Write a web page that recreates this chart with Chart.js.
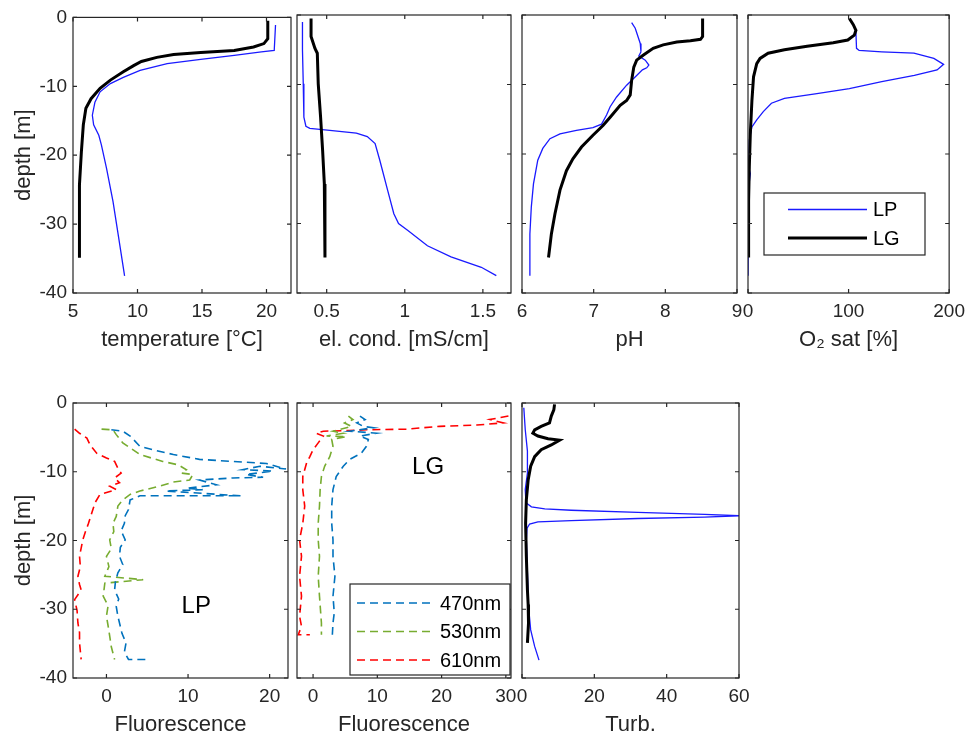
<!DOCTYPE html>
<html>
<head>
<meta charset="utf-8">
<script src="https://cdn.jsdelivr.net/npm/chart.js@4"></script>
<style>
body { margin: 0; background: #fff; }
#wrap { position: relative; width: 972px; height: 738px; }
#wrap canvas { position: absolute; left: 0; top: 0; }
</style>
</head>
<body>
<div id="wrap"></div>
<script>
// ---- DATA (depth in m, negative downwards) ----
var depthTicks = [-40, -30, -20, -10, 0];
var tempTicks = [5, 10, 15, 20];
var condTicks = [0.5, 1, 1.5];
var phTicks = [6, 7, 8, 9];
var o2Ticks = [0, 100, 200];
var fluoLPTicks = [0, 10, 20];
var fluoLGTicks = [0, 10, 20, 30];
var turbTicks = [0, 20, 40, 60];

var tempLGDepth = [-0.5, -3.1, -3.8, -4.3, -4.8, -5.1, -5.4, -5.8, -6.4, -7.0, -7.9, -9.1, -10.3, -11.8, -13.2, -15.6, -19.5, -24.3, -34.9];
var tempLG = [20.1, 20.1, 19.8, 19.0, 17.5, 14.9, 12.8, 11.5, 10.3, 9.7, 8.9, 7.9, 7.1, 6.4, 6.0, 5.8, 5.65, 5.5, 5.5];
var tempLPDepth = [-1.1, -4.8, -5.0, -5.5, -6.1, -6.7, -7.7, -8.7, -9.6, -10.8, -12.3, -14.2, -15.6, -17.1, -18.5, -21.9, -26.7, -31.5, -37.5];
var tempLP = [20.7, 20.6, 19.6, 17.5, 14.9, 12.3, 10.2, 8.9, 7.9, 7.1, 6.7, 6.5, 6.6, 7.0, 7.2, 7.6, 8.1, 8.5, 9.0];

var condLGDepth = [-0.5, -3.1, -4.8, -5.5, -9.9, -14.7, -19.5, -24.3, -29.1, -34.9];
var condLG = [0.40, 0.40, 0.425, 0.44, 0.446, 0.461, 0.474, 0.485, 0.489, 0.489];
var condLPDepth = [-1.0, -5.0, -9.9, -14.7, -16.0, -16.3, -16.6, -17.0, -17.5, -18.5, -20.9, -25.2, -28.6, -30.0, -31.0, -33.2, -34.8, -36.3, -37.5];
var condLP = [0.345, 0.345, 0.35, 0.354, 0.367, 0.392, 0.52, 0.69, 0.76, 0.81, 0.84, 0.89, 0.93, 0.96, 1.02, 1.145, 1.296, 1.49, 1.586];

var phLGDepth = [-0.5, -3.1, -3.5, -3.7, -3.9, -4.3, -4.8, -5.8, -6.5, -7.5, -9.4, -11.5, -12.3, -13.0, -14.7, -15.9, -17.3, -19.0, -20.7, -22.4, -25.2, -28.6, -31.5, -34.9];
var phLG = [8.52, 8.52, 8.49, 8.35, 8.16, 7.97, 7.83, 7.69, 7.60, 7.56, 7.53, 7.51, 7.46, 7.37, 7.23, 7.13, 6.99, 6.83, 6.71, 6.62, 6.53, 6.46, 6.41, 6.37];
var phLPDepth = [-1.1, -1.9, -4.1, -5.3, -5.9, -6.5, -7.2, -7.6, -7.9, -8.7, -10.1, -11.8, -13.2, -14.4, -15.7, -16.2, -16.6, -17.1, -17.8, -19.2, -20.9, -24.3, -27.6, -31.5, -37.5];
var phLP = [7.53, 7.58, 7.65, 7.66, 7.63, 7.72, 7.77, 7.74, 7.68, 7.60, 7.46, 7.32, 7.23, 7.18, 7.11, 6.99, 6.76, 6.53, 6.39, 6.29, 6.22, 6.16, 6.13, 6.11, 6.11];

var o2LGDepth = [-0.5, -1.4, -2.2, -2.9, -3.6, -4.0, -4.5, -5.0, -5.5, -6.25, -7.0, -8.9, -12.3, -17.1, -21.9, -26.7, -34.9];
var o2LG = [100.8, 104.7, 107.3, 105.7, 99.2, 84.7, 58.8, 36.2, 20.0, 12.0, 8.7, 5.5, 3.9, 2.3, 1.3, 0.6, 0.6];
var o2LPDepth = [-2.5, -4.8, -5.1, -5.3, -5.5, -6.25, -7.1, -7.9, -8.7, -9.6, -10.6, -11.3, -12.0, -12.7, -13.9, -15.1, -16.1, -18.0, -21.9, -22.8, -24.8, -31.5, -37.5];
var o2LP = [107.3, 107.9, 110.5, 133, 165, 184.8, 194.5, 188, 165.4, 133, 100.8, 68.5, 36.2, 23.3, 15.2, 8.7, 3.9, 1.3, 0.6, 2.3, 0.6, 0.2, 0];

var fl470LPDepth = [-3.9, -4.1, -4.8, -5.3, -6.3, -6.8, -7.5, -8.2, -8.5, -8.8, -9.6, -9.2, -9.7, -9.9, -10.4, -10.8, -10.9, -11.2, -11.9, -12.4, -12.6, -12.8, -13.5, -13.5, -14.1, -15.5, -16.4, -17.5, -18.6, -19.9, -21.0, -22.3, -23.5, -24.7, -26.0, -27.2, -28.5, -29.6, -31.0, -32.0, -33.5, -34.9, -36.2, -37.3, -37.3];
var fl470LP = [0.6, 2.0, 2.9, 3.3, 4.1, 5.7, 8.2, 11.4, 15.5, 19.6, 22.0, 18.8, 16.7, 20.4, 17.1, 19.2, 15.5, 11.4, 13.5, 9.8, 11.8, 7.3, 16.5, 4.1, 2.9, 2.7, 2.3, 2.2, 1.8, 2.3, 1.7, 1.6, 2.0, 1.4, 1.1, 1.0, 1.5, 1.2, 1.4, 1.6, 1.9, 2.4, 2.2, 2.7, 4.9];
var fl530LPDepth = [-3.8, -3.9, -4.6, -5.8, -7.5, -8.5, -9.0, -9.7, -10.2, -10.4, -11.2, -11.5, -12.1, -12.8, -13.3, -14.1, -15.0, -16.5, -17.5, -18.7, -19.9, -21.2, -22.3, -23.8, -25.2, -25.7, -26.2, -28.1, -29.5, -31.0, -32.4, -33.9, -35.5, -37.3];
var fl530LP = [-0.6, 0.8, 1.2, 2.0, 4.1, 6.9, 8.8, 9.8, 9.2, 10.6, 10.2, 8.2, 6.5, 4.1, 2.9, 2.0, 1.4, 1.2, 0.8, 0.9, 0.4, 0.6, 0.0, 0.3, -0.2, 4.5, -0.2, -0.4, 0.2, 0.0, 0.2, 0.4, 0.6, 1.0];
var fl610LPDepth = [-3.8, -4.4, -5.1, -6.1, -7.3, -8.0, -8.5, -9.5, -10.2, -10.9, -11.6, -12.1, -12.6, -13.3, -14.5, -16.0, -17.5, -18.8, -19.9, -21.1, -22.3, -23.8, -25.2, -26.4, -27.2, -28.6, -30.2, -32.0, -33.4, -34.9, -37.3];
var fl610LP = [-3.9, -3.3, -2.4, -2.0, -1.2, 0.0, 1.0, 1.4, 1.8, 1.0, 1.6, 0.4, 1.2, -0.8, -1.4, -1.8, -2.2, -2.6, -2.9, -3.1, -3.3, -3.2, -3.5, -3.3, -3.1, -3.9, -3.6, -3.5, -3.3, -3.3, -3.1];

var fl470LGDepth = [-1.9, -2.4, -2.9, -3.4, -3.6, -4.1, -4.4, -4.8, -5.3, -6.3, -7.3, -8.2, -9.2, -10.7, -12.6, -15.0, -17.5, -19.9, -22.3, -25.2, -28.1, -30.5, -32.0, -33.7];
var fl470LG = [7.3, 8.1, 6.8, 7.8, 9.4, 5.7, 9.9, 7.3, 8.6, 8.3, 7.5, 5.7, 4.7, 3.6, 3.1, 2.9, 2.9, 3.1, 3.1, 3.4, 3.1, 3.3, 3.1, 3.0];
var fl530LGDepth = [-1.9, -2.4, -2.9, -3.4, -4.1, -4.4, -4.8, -4.9, -5.3, -6.3, -7.8, -9.2, -10.7, -12.6, -15.0, -17.5, -19.9, -22.3, -25.2, -28.1, -32.0, -33.7];
var fl530LG = [5.5, 6.2, 4.9, 6.0, 3.1, 4.7, 2.1, 5.2, 2.9, 3.1, 2.6, 1.8, 1.3, 1.1, 1.0, 0.8, 0.8, 1.0, 0.8, 1.0, 1.3, 1.3];
var fl610LGDepth = [-1.9, -2.4, -2.9, -3.2, -3.4, -3.8, -3.9, -4.0, -4.1, -4.4, -4.8, -5.8, -6.8, -7.8, -8.7, -10.7, -12.6, -15.0, -17.5, -19.9, -22.3, -25.2, -28.1, -31.0, -32.5, -33.7, -33.7];
var fl610LG = [30.4, 27.5, 29.6, 25.5, 19.7, 14.5, 8.3, 5.7, 1.6, 0.5, 1.6, 0.8, 0.0, -0.5, -1.0, -1.6, -1.6, -1.3, -1.6, -2.1, -1.8, -2.1, -1.8, -2.1, -1.8, -2.3, -0.5];

var turbLGDepth = [-0.2, -1.0, -1.9, -2.9, -3.4, -3.9, -4.4, -4.8, -5.2, -5.4, -6.1, -6.8, -7.8, -9.2, -11.2, -14.1, -17.5, -22.3, -27.2, -29.3, -32.0, -34.9];
var turbLG = [9.0, 8.8, 8.1, 7.6, 5.3, 3.5, 3.0, 4.4, 7.2, 10.4, 8.1, 5.3, 3.5, 2.4, 1.7, 1.2, 1.0, 1.2, 1.5, 1.7, 1.8, 1.5];
var turbLPDepth = [-0.7, -3.9, -7.0, -10.2, -12.6, -14.5, -15.1, -15.4, -15.6, -15.9, -16.2, -16.4, -16.6, -16.8, -17.1, -17.3, -17.6, -18.2, -19.9, -24.7, -29.6, -33.0, -35.4, -37.4];
var turbLP = [0.5, 0.9, 1.5, 1.5, 0.9, 1.1, 2.6, 6.3, 13.6, 32, 50.5, 60, 50.5, 32, 13.6, 4.4, 2.1, 1.4, 1.2, 1.5, 1.8, 2.4, 3.5, 4.7];

// ---- STYLE ----
var W = 972, H = 738;
var axisColor = '#262626';
var fontFamily = '"Liberation Sans", Arial, sans-serif';
var tickFont = { family: fontFamily, size: 19 };
var titleFont = { family: fontFamily, size: 22 };
var lpColor = '#1a1aff', lgColor = '#000000';
var c470 = '#0072BD', c530 = '#77AC30', c610 = '#FF0000';
var wrap = document.getElementById('wrap');

function pts(xs, ds) {
    var out = [];
    for (var i = 0; i < xs.length; i++) out.push({ x: xs[i], y: ds[i] });
    return out;
}

function series(label, xs, ds, color, width, dash) {
    return { label: label, data: pts(xs, ds), showLine: true, fill: false, borderColor: color,
             backgroundColor: color, borderWidth: width, borderDash: dash || [], pointRadius: 0, tension: 0 };
}

// box + inward tick marks on all four sides
var frameTicks = {
    id: 'frameTicks',
    afterDatasetsDraw: function(chart) {
        var a = chart.chartArea, ctx = chart.ctx;
        var xs = chart.scales.x, ys = chart.scales.y;
        ctx.save();
        ctx.strokeStyle = axisColor;
        ctx.lineWidth = 1.2;
        ctx.beginPath();
        xs.ticks.forEach(function(t) {
            var px = xs.getPixelForValue(t.value);
            ctx.moveTo(px, a.bottom); ctx.lineTo(px, a.bottom - 4);
            ctx.moveTo(px, a.top); ctx.lineTo(px, a.top + 4);
        });
        ys.ticks.forEach(function(t) {
            var py = ys.getPixelForValue(t.value);
            ctx.moveTo(a.left, py); ctx.lineTo(a.left + 4, py);
            ctx.moveTo(a.right, py); ctx.lineTo(a.right - 4, py);
        });
        ctx.stroke();
        ctx.strokeRect(a.left, a.top, a.right - a.left, a.bottom - a.top);
        ctx.restore();
    }
};

// legend box drawn inside the plot area
function boxLegend(dx, dy, w, h, rowTop, rowGap, lineX0, lineX1, textX, labels) {
    return {
        id: 'boxLegend',
        afterDraw: function(chart) {
            var a = chart.chartArea, ctx = chart.ctx;
            var x0 = a.left + dx, y0 = a.top + dy;
            ctx.save();
            ctx.fillStyle = '#fff';
            ctx.fillRect(x0, y0, w, h);
            ctx.strokeStyle = axisColor;
            ctx.lineWidth = 1.2;
            ctx.strokeRect(x0, y0, w, h);
            labels.forEach(function(lab, i) {
                var ds = chart.data.datasets.filter(function(d) { return d.label === lab; })[0];
                var y = y0 + rowTop + i * rowGap;
                ctx.strokeStyle = ds.borderColor;
                ctx.lineWidth = ds.borderWidth;
                ctx.setLineDash(ds.borderDash);
                ctx.beginPath();
                ctx.moveTo(x0 + lineX0, y); ctx.lineTo(x0 + lineX1, y);
                ctx.stroke();
                ctx.setLineDash([]);
                ctx.fillStyle = '#000';
                ctx.font = '20px ' + fontFamily;
                ctx.textAlign = 'left';
                ctx.textBaseline = 'middle';
                ctx.fillText(lab, x0 + textX, y + 1);
            });
            ctx.restore();
        }
    };
}

function label(text, xv, yv) {
    return {
        id: 'label',
        afterDraw: function(chart) {
            var ctx = chart.ctx;
            ctx.save();
            ctx.fillStyle = '#000';
            ctx.font = '24px ' + fontFamily;
            ctx.textAlign = 'center';
            ctx.textBaseline = 'middle';
            ctx.fillText(text, chart.scales.x.getPixelForValue(xv), chart.scales.y.getPixelForValue(yv));
            ctx.restore();
        }
    };
}

function makeChart(box, xMin, xMax, xTicks, xTitle, datasets, showY, extra) {
    var cv = document.createElement('canvas');
    cv.width = W; cv.height = H;
    wrap.appendChild(cv);
    var yW = showY ? 62 : 0, xH = 60;
    return new Chart(cv, {
        type: 'scatter',
        data: { datasets: datasets },
        options: {
            responsive: false,
            animation: false,
            layout: { padding: { left: box[0] - yW, top: box[1], right: W - box[2], bottom: H - box[3] - xH } },
            plugins: { legend: { display: false }, tooltip: { enabled: false } },
            scales: {
                x: {
                    type: 'linear', position: 'bottom', min: xMin, max: xMax,
                    grid: { display: false, drawTicks: false }, border: { display: false },
                    afterBuildTicks: function(s) { s.ticks = xTicks.map(function(v) { return { value: v }; }); },
                    afterFit: function(s) { s.height = xH; },
                    ticks: { font: tickFont, color: axisColor, padding: 7, maxRotation: 0, autoSkip: false,
                             callback: function(v) { return String(v); } },
                    title: { display: true, text: xTitle, font: titleFont, color: axisColor, padding: 0 }
                },
                y: {
                    type: 'linear', position: 'left', min: -40, max: 0,
                    grid: { display: false, drawTicks: false }, border: { display: false },
                    afterBuildTicks: function(s) { s.ticks = depthTicks.map(function(v) { return { value: v }; }); },
                    afterFit: function(s) { s.width = yW; },
                    ticks: { display: showY, font: tickFont, color: axisColor, padding: 6, autoSkip: false,
                             callback: function(v) { return String(v); } },
                    title: { display: showY, text: 'depth [m]', font: titleFont, color: axisColor, padding: 0 }
                }
            }
        },
        plugins: [frameTicks].concat(extra || [])
    });
}

// ---- TOP ROW ----
makeChart([73, 15, 291, 293], 5, 21.9, tempTicks, 'temperature [°C]', [
    series('LG', tempLG, tempLGDepth, lgColor, 3),
    series('LP', tempLP, tempLPDepth, lpColor, 1.3)
], true);

makeChart([297, 15, 511, 293], 0.31, 1.68, condTicks, 'el. cond. [mS/cm]', [
    series('LG', condLG, condLGDepth, lgColor, 3),
    series('LP', condLP, condLPDepth, lpColor, 1.3)
], false);

makeChart([522, 15, 737, 293], 6, 9, phTicks, 'pH', [
    series('LG', phLG, phLGDepth, lgColor, 3),
    series('LP', phLP, phLPDepth, lpColor, 1.3)
], false);

makeChart([748, 15, 954, 293], 0, 200, o2Ticks, 'O₂ sat [%]', [
    series('LG', o2LG, o2LGDepth, lgColor, 3),
    series('LP', o2LP, o2LPDepth, lpColor, 1.3)
], false, [boxLegend(16, 178, 161, 62, 16.5, 28.5, 24, 103, 109, ['LP', 'LG'])]);

// ---- BOTTOM ROW ----
makeChart([73, 403, 288, 678], -4.1, 22.25, fluoLPTicks, 'Fluorescence', [
    series('470nm', fl470LP, fl470LPDepth, c470, 1.6, [8, 5]),
    series('530nm', fl530LP, fl530LPDepth, c530, 1.6, [8, 5]),
    series('610nm', fl610LP, fl610LPDepth, c610, 1.6, [8, 5])
], true, [label('LP', 11.0, -29.6)]);

makeChart([297, 403, 511, 678], -2.5, 30.8, fluoLGTicks, 'Fluorescence', [
    series('470nm', fl470LG, fl470LGDepth, c470, 1.6, [8, 5]),
    series('530nm', fl530LG, fl530LGDepth, c530, 1.6, [8, 5]),
    series('610nm', fl610LG, fl610LGDepth, c610, 1.6, [8, 5])
], false, [label('LG', 17.9, -9.3), boxLegend(53, 181, 160, 91, 19, 28.5, 7, 80, 90, ['470nm', '530nm', '610nm'])]);

makeChart([522, 403, 739, 678], 0, 60, turbTicks, 'Turb.', [
    series('LG', turbLG, turbLGDepth, lgColor, 3),
    series('LP', turbLP, turbLPDepth, lpColor, 1.3)
], false);
</script>
</body>
</html>
